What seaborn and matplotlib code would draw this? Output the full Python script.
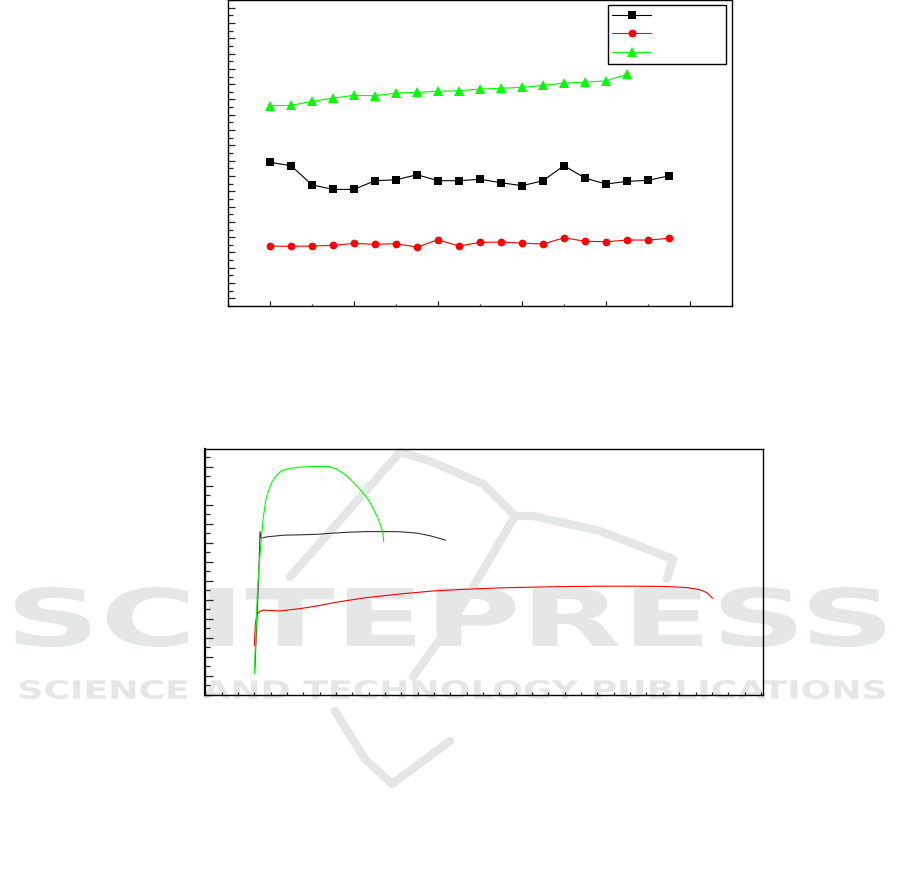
import matplotlib
matplotlib.use('Agg')
import matplotlib.pyplot as plt
import seaborn as sns
from matplotlib.ticker import MultipleLocator
from matplotlib.textpath import TextPath
from matplotlib.patches import PathPatch
from matplotlib.path import Path
from matplotlib.font_manager import FontProperties
from matplotlib.transforms import Affine2D, IdentityTransform

# %%
# upper panel: three series measured at 20 positions
position = [0, 5, 10, 15, 20, 25, 30, 35, 40, 45, 50, 55, 60, 65, 70, 75, 80, 85, 90, 95]
black_vals = [8.89, 8.67, 7.42, 7.12, 7.12, 7.69, 7.75, 8.08, 7.69, 7.69,
              7.78, 7.56, 7.36, 7.69, 8.67, 7.86, 7.47, 7.65, 7.71, 8.01]
red_vals = [3.42, 3.40, 3.42, 3.46, 3.59, 3.53, 3.57, 3.35, 3.83, 3.42,
            3.66, 3.68, 3.61, 3.55, 3.96, 3.73, 3.70, 3.81, 3.81, 3.92]
green_pos = [0, 5, 10, 15, 20, 25, 30, 35, 40, 45, 50, 55, 60, 65, 70, 75, 80, 85]
green_vals = [12.59, 12.61, 12.88, 13.09, 13.27, 13.24, 13.42, 13.46, 13.53,
              13.57, 13.68, 13.73, 13.79, 13.92, 14.07, 14.12, 14.22, 14.64]

# lower panel: stress-strain curves
strain_green = [0, 0.10, 0.18, 0.27, 0.35, 0.45, 0.55, 0.69, 0.86, 1.06, 1.33, 1.67,
                2.18, 2.80, 3.61, 4.53, 5.04, 5.65, 6.27, 6.88, 7.29, 7.59, 7.80, 7.88, 7.92]
stress_green = [112, 337, 530, 652, 740, 845, 933, 1021, 1073, 1117, 1152, 1179,
                1191, 1198, 1201, 1201, 1187, 1152, 1100, 1038, 977, 924, 872, 845, 805]
strain_black = [0.02, 0.18, 0.31, 0.35, 0.41, 0.76, 1.78, 2.80, 3.92, 4.84, 5.86,
                6.88, 8.10, 8.92, 9.94, 10.76, 11.71]
stress_black = [118, 442, 740, 859, 824, 831, 840, 842, 845, 851, 856,
                859, 859, 858, 851, 837, 814]
strain_red = [0, 0.06, 0.14, 0.31, 0.55, 1.57, 2.80, 3.82, 5.24, 6.88, 8.92, 10.96,
              13.0, 15.04, 17.08, 19.12, 21.16, 23.2, 25.24, 26.47, 27.29, 27.69, 28.04]
stress_red = [258, 372, 416, 439, 446, 442, 454, 468, 491, 512, 531, 547,
              556, 563, 567, 570, 572, 572, 570, 565, 553, 538, 509]

# %%
sns.set_style('white')
fig = plt.figure(figsize=(9.01, 8.78), dpi=100)
W, H = 901, 878

# watermark (drawn under the axes)
wm_color = '#e5e6e6'
bold = FontProperties(family='DejaVu Sans', weight='bold')

def fit_text(s, x0, x1, y_top, y_bot):
    tp = TextPath((0, 0), s, size=1, prop=bold)
    bb = tp.get_extents()
    sx = (x1 - x0) / bb.width
    sy = (y_bot - y_top) / bb.height
    tr = Affine2D().translate(-bb.x0, -bb.y0).scale(sx, sy).translate(x0, H - y_bot)
    p = PathPatch(tr.transform_path(tp), facecolor=wm_color, edgecolor='none',
                  transform=IdentityTransform(), zorder=-2)
    fig.add_artist(p)

fit_text('SCITEPRESS', 15, 885, 588, 648)
fit_text('SCIENCE AND TECHNOLOGY PUBLICATIONS', 20, 885, 681, 700)

swoosh = [(290, 578), (400, 453), (430, 462), (483, 485), (515, 517),
          (533, 517), (600, 532), (673, 560), (667, 580)]
arm = [(515, 517), (453, 622), (413, 678)]
tail = [(335, 712), (365, 760), (392, 785), (450, 742)]
for pts in (swoosh, arm, tail):
    path = Path([(x, H - y) for x, y in pts])
    fig.add_artist(PathPatch(path, facecolor='none', edgecolor=wm_color, lw=6,
                             transform=IdentityTransform(), zorder=-2,
                             capstyle='round', joinstyle='round'))

# %%
ax1 = fig.add_axes([228 / W, 1 - 307 / H, 504 / W, 306 / H])
ax1.set_facecolor('none')
sns.lineplot(x=position, y=black_vals, ax=ax1, color='black', marker='s',
             markersize=5.2, markeredgewidth=0, linewidth=0.8, estimator=None)
sns.lineplot(x=position, y=red_vals, ax=ax1, color='#ff0000', marker='o',
             markersize=5.6, markeredgewidth=0, linewidth=0.8, estimator=None)
sns.lineplot(x=green_pos, y=green_vals, ax=ax1, color='#00ff00', marker='^',
             markersize=6.5, markeredgewidth=0, linewidth=0.8, estimator=None)
ax1.set_xlim(-10, 110)
ax1.set_ylim(-0.5, 19.5)
ax1.xaxis.set_major_locator(MultipleLocator(20))
ax1.xaxis.set_minor_locator(MultipleLocator(10))
ax1.yaxis.set_major_locator(MultipleLocator(1))
ax1.yaxis.set_minor_locator(MultipleLocator(0.5))
ax1.tick_params(axis='y', which='major', direction='in', length=4.8, width=0.9,
                labelleft=False, left=True)
ax1.tick_params(axis='y', which='minor', direction='in', length=3.3, width=0.9, left=True)
ax1.tick_params(axis='x', which='major', direction='in', length=3.6, width=0.9,
                labelbottom=False, bottom=True)
ax1.tick_params(axis='x', which='minor', direction='in', length=1.5, width=0.9, bottom=True)
ax1.set_xlabel('')
ax1.set_ylabel('')
for sp in ax1.spines.values():
    sp.set_linewidth(1.0)
    sp.set_color('black')

leg = ax1.legend(handles=ax1.lines[:3], labels=[' ', ' ', ' '], loc='upper left',
                 bbox_to_anchor=(0.754, 0.797, 0.234, 0.187), mode='expand',
                 borderaxespad=0, numpoints=1, handlelength=2.8, fontsize=10,
                 labelspacing=0.3, borderpad=0.3, fancybox=False, framealpha=1)
leg.get_frame().set_edgecolor('black')
leg.get_frame().set_linewidth(1.0)

# %%
ax2 = fig.add_axes([205 / W, 1 - 696 / H, 557.5 / W, 246 / H])
ax2.set_facecolor('none')
sns.lineplot(x=strain_black, y=stress_black, ax=ax2, color='#333333', linewidth=0.8,
             sort=False, estimator=None)
sns.lineplot(x=strain_red, y=stress_red, ax=ax2, color='#ff0000', linewidth=0.8,
             sort=False, estimator=None)
sns.lineplot(x=strain_green, y=stress_green, ax=ax2, color='#00ff00', linewidth=0.8,
             sort=False, estimator=None)
ax2.set_xlim(-3.02, 31.1)
ax2.set_ylim(0, 1293)
ax2.xaxis.set_major_locator(MultipleLocator(2))
ax2.xaxis.set_minor_locator(MultipleLocator(1))
ax2.yaxis.set_major_locator(MultipleLocator(100))
ax2.yaxis.set_minor_locator(MultipleLocator(50))
ax2.tick_params(axis='y', which='major', direction='in', length=5.8, width=0.9,
                labelleft=False, left=True)
ax2.tick_params(axis='y', which='minor', direction='in', length=3.6, width=0.9, left=True)
ax2.tick_params(axis='x', which='major', direction='in', length=2.5, width=0.9,
                labelbottom=False, bottom=True)
ax2.tick_params(axis='x', which='minor', direction='in', length=2.0, width=0.9, bottom=True)
ax2.set_xlabel('')
ax2.set_ylabel('')
for sp in ax2.spines.values():
    sp.set_linewidth(1.0)
    sp.set_color('black')
ax2.spines['left'].set_linewidth(1.6)

fig.savefig('out.png', dpi=100)
